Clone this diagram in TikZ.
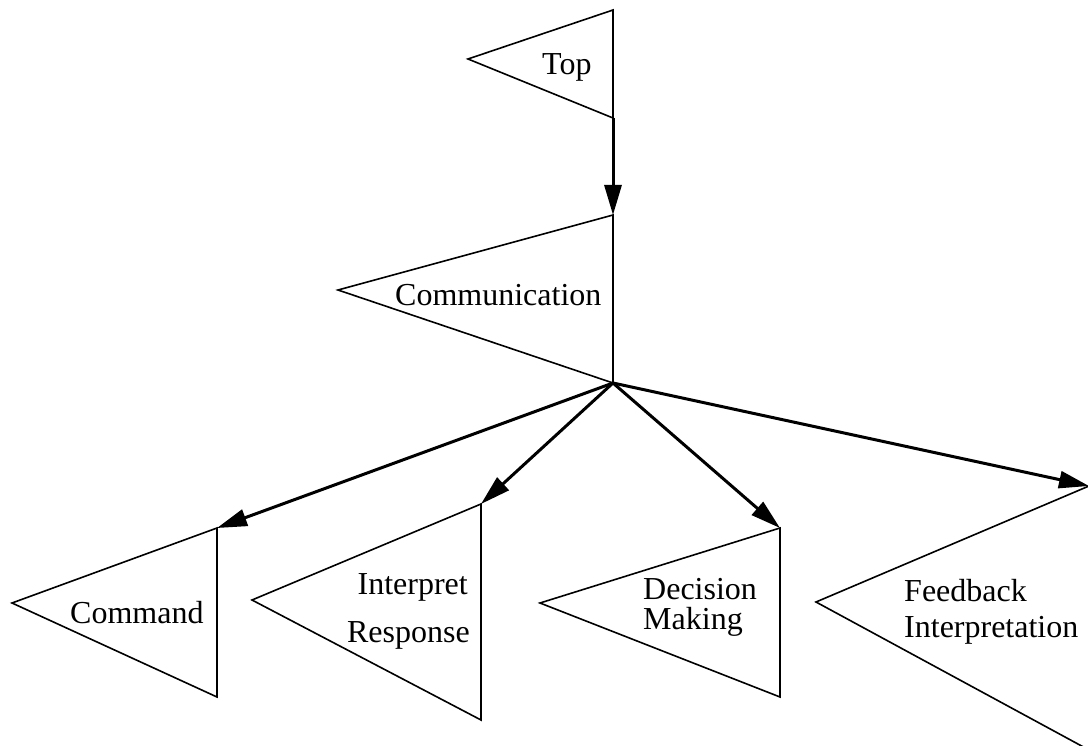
\documentclass[tikz,border=0pt]{standalone}
\usepackage{fontspec}
\setmainfont{Liberation Serif}
\usetikzlibrary{arrows.meta}
\tikzset{
  flag/.style={draw=black, line width=1.6pt, line join=miter},
  link/.style={draw=black, line width=3pt, -{Triangle[length=30pt,width=17pt]}},
  lbl/.style={inner sep=0pt, font=\fontsize{32}{38}\selectfont},
}
\begin{document}
\begin{tikzpicture}[x=1pt,y=-1pt]
\useasboundingbox (0,0) rectangle (1088,746);
% corner points of each flag: top, tip, bottom
\coordinate (topT) at (613,10);   \coordinate (topL) at (468,59);  \coordinate (topB) at (613,118);
\coordinate (comT) at (613,215);  \coordinate (comL) at (338,290); \coordinate (comB) at (613,383);
\coordinate (cmdT) at (217,528);  \coordinate (cmdL) at (12,603);  \coordinate (cmdB) at (217,697);
\coordinate (irT) at (481,504);   \coordinate (irL) at (252,600);  \coordinate (irB) at (481,720);
\coordinate (dmT) at (780,528);   \coordinate (dmL) at (540,603);  \coordinate (dmB) at (780,697);
\coordinate (fbT) at (1089,486);  \coordinate (fbL) at (816,602); \coordinate (fbB) at (1089,750);

% flags
\draw[flag] (topT) -- (topL) -- (topB) -- cycle;
\draw[flag] (comT) -- (comL) -- (comB) -- cycle;
\draw[flag] (cmdT) -- (cmdL) -- (cmdB) -- cycle;
\draw[flag] (irT) -- (irL) -- (irB) -- cycle;
\draw[flag] (dmT) -- (dmL) -- (dmB) -- cycle;
\draw[flag] (fbT) -- (fbL) -- (fbB) -- cycle;

% labels
\node[lbl, anchor=base west] (lTop) at (542,75) {Top};
\node[lbl, anchor=base west] (lCom) at (395,306) {Communication};
\node[lbl, anchor=base west] (lCmd) at (70,623) {Command};
\node[lbl, anchor=base east] (lIr1) at (468,594) {Interpret};
\node[lbl, anchor=base east] (lIr2) at (470,642) {Response};
\node[lbl, anchor=base west] (lDm1) at (643,599) {Decision};
\node[lbl, anchor=base west] (lDm2) at (643,629) {Making};
\node[lbl, anchor=base west] (lFb1) at (904,601) {Feedback};
\node[lbl, anchor=base west] (lFb2) at (904,637) {Interpretation};

% connectors
\draw[link] (topB) -- (comT);
\draw[link] (comB) -- (cmdT);
\draw[link] (comB) -- (irT);
\draw[link] (comB) -- (dmT);
\draw[link] (comB) -- (fbT);
\end{tikzpicture}
\end{document}
